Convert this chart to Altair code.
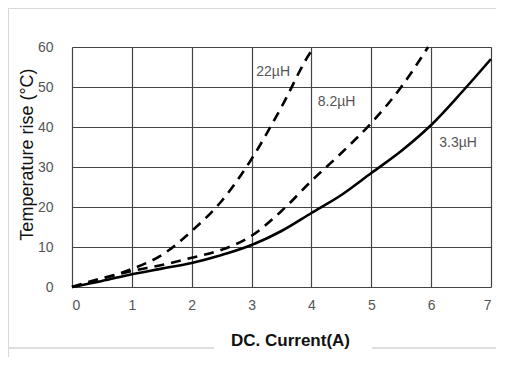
import altair as alt
import pandas as pd

current = [0, 0.5, 1, 1.5, 2, 2.5, 3, 3.5, 4, 4.5, 5, 5.5, 6, 6.5, 7]
rise_3_3 = [0, 1.5, 3.2, 4.6, 6, 8, 10.5, 14, 18.5, 23, 28.5, 34, 40.5, 48.5, 57]

current_8_2 = [0, 0.5, 1, 1.5, 2, 2.5, 3, 3.5, 4, 4.5, 5, 5.5, 5.95]
rise_8_2 = [0, 2.2, 4, 5.5, 7.3, 9.3, 12.8, 19, 26.5, 33.5, 41, 50, 60]

current_22 = [0, 0.5, 1, 1.5, 2, 2.5, 3, 3.5, 4, 4.05]
rise_22 = [0, 2, 4.5, 8, 14, 21.5, 32, 45, 59, 60]

x_ticks = [0, 1, 2, 3, 4, 5, 6, 7]
y_ticks = [0, 10, 20, 30, 40, 50, 60]

label_text = ["22µH", "8.2µH", "3.3µH"]
label_x = [3.36, 4.42, 6.45]
label_y = [53.75, 46.25, 36.1]

rows = []
for s, xs, ys in [("3.3µH", current, rise_3_3), ("8.2µH", current_8_2, rise_8_2), ("22µH", current_22, rise_22)]:
    for a, b in zip(xs, ys):
        rows.append({"series": s, "x": a, "y": b})
df = pd.DataFrame(rows)
labels = pd.DataFrame({"t": label_text, "x": label_x, "y": label_y})

W, H = 419, 240
xs = alt.Scale(domain=[0, 7], nice=False)
ys = alt.Scale(domain=[0, 60], nice=False)

x_enc = alt.X("x:Q", scale=xs, axis=alt.Axis(
    values=x_ticks, format="d", title="DC. Current(A)", grid=True, ticks=False,
    labelPadding=11, labelFontSize=14, labelColor="#555555", labelOverlap=False,
    titleFontSize=17, titleFontWeight="bold", titleColor="#111111",
    titleX=218, titleY=53, titleBaseline="middle", titleAlign="center",
    gridColor="#444444", gridWidth=1.2, domain=False))
y_enc = alt.Y("y:Q", scale=ys, axis=alt.Axis(
    values=y_ticks, format="d", title="Temperature rise (°C)", grid=True, ticks=False,
    labelPadding=19, labelFontSize=14, labelColor="#555555", labelOverlap=False,
    titleFontSize=18, titleFontWeight="normal", titleColor="#111111",
    titleX=-45, titleY=107, titleBaseline="middle", titleAlign="center", titleAngle=270,
    gridColor="#444444", gridWidth=1.2, domain=False))

solid = alt.Chart(df[df.series == "3.3µH"]).mark_line(
    color="black", strokeWidth=2.6, interpolate="monotone").encode(x=x_enc, y=y_enc)
dashed = alt.Chart(df[df.series != "3.3µH"]).mark_line(
    color="black", strokeWidth=2.6, strokeDash=[10, 7], interpolate="monotone"
).encode(x=x_enc, y=y_enc, detail="series:N")
text = alt.Chart(labels).mark_text(
    font="Liberation Sans", fontSize=14, color="#555555").encode(x=x_enc, y=y_enc, text="t:N")

frame_color = "#d9d9d9"
frame_top = alt.Chart(labels).mark_rule(color=frame_color, strokeWidth=1).encode(
    x=alt.value(-63.5), x2=alt.value(440), y=alt.value(-38.5))
frame_left = alt.Chart(labels).mark_rule(color=frame_color, strokeWidth=1).encode(
    x=alt.value(-63.5), y=alt.value(-38.5), y2=alt.value(320))
frame_b1 = alt.Chart(labels).mark_rule(color=frame_color, strokeWidth=1).encode(
    x=alt.value(-63.5), x2=alt.value(142), y=alt.value(301))
frame_b2 = alt.Chart(labels).mark_rule(color=frame_color, strokeWidth=1).encode(
    x=alt.value(300), x2=alt.value(440), y=alt.value(301))

chart = alt.layer(solid, dashed, text, frame_top, frame_left, frame_b1, frame_b2).properties(
    width=W, height=H,
    autosize=alt.AutoSizeParams(type="none"),
    padding={"left": 64, "top": 39, "right": 5, "bottom": 70},
).configure_view(stroke="#444444", strokeWidth=1.5).configure_axis(
    labelFont="Liberation Sans", titleFont="Liberation Sans"
).configure(background="white")

chart.save("out.html", embed_options={"renderer": "svg", "actions": False})
